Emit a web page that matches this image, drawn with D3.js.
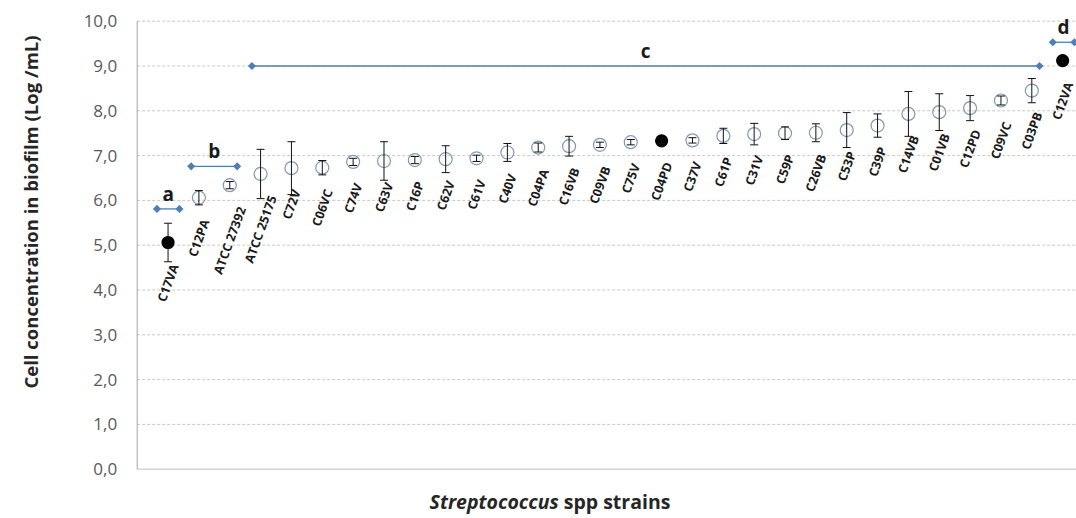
<!DOCTYPE html>
<html><head><meta charset="utf-8">
<script src="https://cdn.jsdelivr.net/npm/d3@7"></script>
<style>body{margin:0;background:#fff}svg{display:block}</style>
</head><body>
<svg id="chart" width="1076" height="518"></svg>
<script>
const strains = ["C17VA","C12PA","ATCC 27392","ATCC 25175","C72V","C06VC","C74V","C63V","C16P","C62V","C61V","C40V","C04PA","C16VB","C09VB","C75V","C04PD","C37V","C61P","C31V","C59P","C26VB","C53P","C39P","C14VB","C01VB","C12PD","C09VC","C03PB","C12VA"];
const means = [5.06,6.06,6.34,6.59,6.72,6.73,6.86,6.88,6.90,6.92,6.94,7.07,7.18,7.21,7.24,7.30,7.33,7.34,7.44,7.48,7.50,7.51,7.57,7.67,7.93,7.97,8.06,8.23,8.45,9.12];
const errors = [0.43,0.16,0.08,0.55,0.59,0.16,0.08,0.43,0.08,0.30,0.07,0.20,0.10,0.22,0.06,0.06,0.06,0.06,0.17,0.24,0.14,0.20,0.39,0.26,0.50,0.41,0.28,0.10,0.27,0.05];
const filled = ["C17VA","C04PD","C12VA"];
const groupNames = ["a","b","c","d"];
const groupStart = [0.64,1.75,3.72,29.68];
const groupEnd = [1.37,3.24,29.25,30.38];
const groupLevel = [5.81,6.76,9.0,9.53];
const yTicks = [0,1,2,3,4,5,6,7,8,9,10];

const svg = d3.select("#chart");
const x = d3.scaleLinear().domain([0,31]).range([137.2,1093.5]);
const y = d3.scaleLinear().domain([0,10]).range([469.2,21.2]);
const font = "'Open Sans', 'DejaVu Sans', sans-serif";

// gridlines
svg.append("g").selectAll("line").data(yTicks.filter(d=>d>0)).join("line")
  .attr("x1",x(0)).attr("x2",1076).attr("y1",d=>y(d)).attr("y2",d=>y(d))
  .attr("stroke","#c8c8c8").attr("stroke-width",1).attr("stroke-dasharray","3,2");
// axes lines
svg.append("line").attr("x1",x(0)).attr("x2",x(0)).attr("y1",y(10)).attr("y2",y(0)).attr("stroke","#a6a6a6");
svg.append("line").attr("x1",x(0)).attr("x2",1076).attr("y1",y(0)).attr("y2",y(0)).attr("stroke","#bfbfbf");

// y tick labels
const yAxis = d3.axisLeft(y).tickValues(yTicks).tickSize(0).tickPadding(20)
  .tickFormat(d=>d3.format(".1f")(d).replace(".",","));
const ya = svg.append("g").attr("transform",`translate(${x(0)},0)`).call(yAxis);
ya.select(".domain").remove();
ya.selectAll("text").attr("font-family",font).attr("font-size",17).attr("fill","#595959");

// axis titles
svg.append("text").attr("transform",`translate(38,212) rotate(-90)`).attr("text-anchor","middle")
  .attr("font-family",font).attr("font-weight","bold").attr("font-size",18.5).attr("fill","#262626")
  .text("Cell concentration in biofilm (Log /mL)");
const xt = svg.append("text").attr("x",550).attr("y",509).attr("text-anchor","middle")
  .attr("font-family",font).attr("font-weight","bold").attr("font-size",19.5).attr("fill","#262626");
xt.append("tspan").attr("font-style","italic").text("Streptococcus");
xt.append("tspan").text(" spp strains");

// group lines
const gcol = "#4f7fb3";
const gg = svg.append("g");
gg.selectAll("line").data(groupNames).join("line")
  .attr("x1",(d,i)=>x(groupStart[i])).attr("x2",(d,i)=>x(groupEnd[i]))
  .attr("y1",(d,i)=>y(groupLevel[i])).attr("y2",(d,i)=>y(groupLevel[i]))
  .attr("stroke",gcol).attr("stroke-width",1.3);
const diamonds = [];
groupNames.forEach((g,i)=>{diamonds.push([groupStart[i],groupLevel[i]]);diamonds.push([groupEnd[i],groupLevel[i]]);});
gg.selectAll("path").data(diamonds).join("path")
  .attr("d",d3.symbol(d3.symbolDiamond2,42))
  .attr("transform",d=>`translate(${x(d[0])},${y(d[1])})`).attr("fill",gcol);
gg.selectAll("text").data(groupNames).join("text")
  .attr("x",(d,i)=>x((groupStart[i]+groupEnd[i])/2)).attr("y",(d,i)=>y(groupLevel[i])-8)
  .attr("text-anchor","middle").attr("font-family",font).attr("font-weight","bold")
  .attr("font-size",19).attr("fill","#1a1a1a").text(d=>d);

// points
const pg = svg.append("g");
const pts = pg.selectAll("g").data(strains).join("g");
pts.append("circle").attr("cx",(d,i)=>x(i+1)).attr("cy",(d,i)=>y(means[i]))
  .attr("r",d=>filled.includes(d)?6:6.5)
  .attr("fill",d=>filled.includes(d)?"#000":"none")
  .attr("stroke",d=>filled.includes(d)?"#000":"#8098b4").attr("stroke-width",1.2);
pts.append("line").attr("x1",(d,i)=>x(i+1)).attr("x2",(d,i)=>x(i+1))
  .attr("y1",(d,i)=>y(means[i]+errors[i])).attr("y2",(d,i)=>y(means[i]-errors[i]))
  .attr("stroke","#111").attr("stroke-width",1);
[1,-1].forEach(s=>{
  pts.append("line").attr("x1",(d,i)=>x(i+1)-4).attr("x2",(d,i)=>x(i+1)+4)
    .attr("y1",(d,i)=>y(means[i]+s*errors[i])).attr("y2",(d,i)=>y(means[i]+s*errors[i]))
    .attr("stroke","#111").attr("stroke-width",1);
});

// category labels (rotated, placed below point)
const ang = 70, rad = ang*Math.PI/180, fs = 12.5;
pts.append("text").attr("font-family",font).attr("font-weight","bold").attr("font-size",fs)
  .attr("fill","#1a1a1a").attr("text-anchor","middle").attr("dominant-baseline","central")
  .text(d=>d)
  .each(function(d,i){
    const L = this.getComputedTextLength();
    const h = fs*0.95;
    const bh = L*Math.sin(rad)+h*Math.cos(rad);
    const cx = x(i+1), cy = y(means[i]) + 20 + bh/2;
    d3.select(this).attr("transform",`translate(${cx},${cy}) rotate(${-ang})`);
  });
</script>
</body></html>
